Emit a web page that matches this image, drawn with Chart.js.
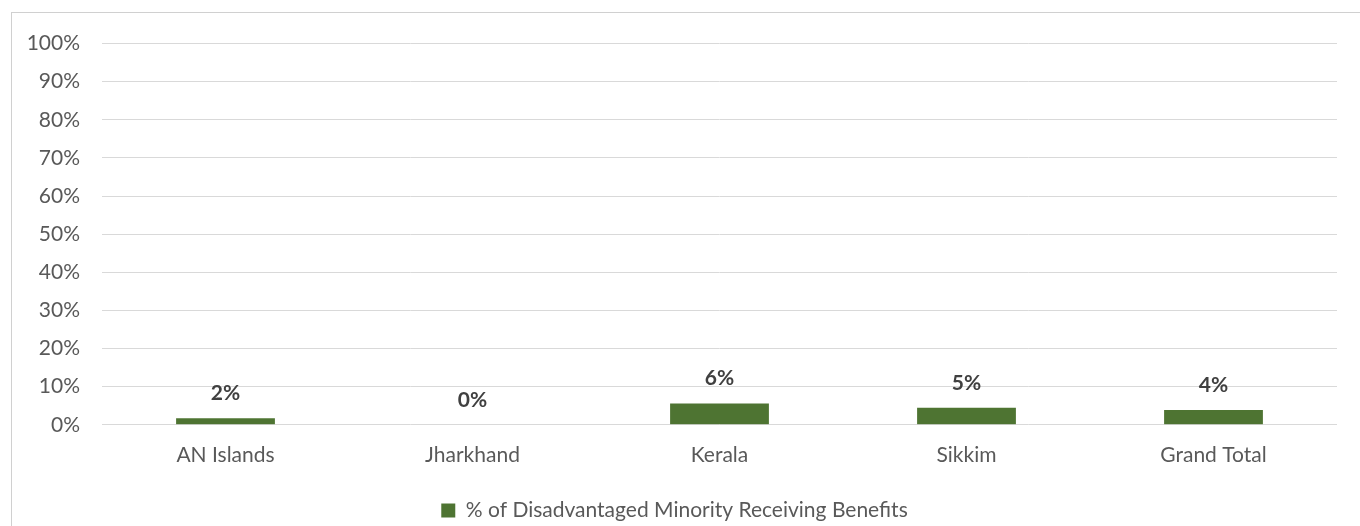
<!DOCTYPE html>
<html>
<head>
<meta charset="utf-8">
<script src="https://cdn.jsdelivr.net/npm/chart.js@4"></script>
<style>
  html, body { margin: 0; padding: 0; background: #fff; overflow: hidden; }
  #frame {
    position: absolute;
    left: 11px;
    top: 12px;
    width: 1360px;
    height: 540px;
    border: 1px solid #d0d0d0;
  }
  #wrap { position: absolute; left: 0; top: -4px; width: 1348px; height: 522px; }
</style>
</head>
<body>
<div id="frame"><div id="wrap"><canvas id="chart"></canvas></div></div>
<script>
// values (percent)
const categories = ["AN Islands", "Jharkhand", "Kerala", "Sikkim", "Grand Total"];
const benefitShare = [1.7, 0, 5.6, 4.5, 3.9];
const seriesLabel = "% of Disadvantaged Minority Receiving Benefits";

const FONT = "Lato, 'Open Sans', sans-serif";
const GREEN = "#4e7432";

// bold value labels above each bar
const valueLabels = {
  id: "valueLabels",
  afterDatasetsDraw(chart) {
    const ctx = chart.ctx;
    const meta = chart.getDatasetMeta(0);
    ctx.save();
    ctx.font = "bold 21px " + FONT;
    ctx.fillStyle = "#404040";
    ctx.textAlign = "center";
    ctx.textBaseline = "alphabetic";
    meta.data.forEach((bar, i) => {
      const v = chart.data.datasets[0].data[i];
      ctx.fillText(Math.round(v) + "%", bar.x, bar.y - 18);
    });
    ctx.restore();
  }
};

new Chart(document.getElementById("chart"), {
  type: "bar",
  data: {
    labels: categories,
    datasets: [
      {
        label: seriesLabel,
        data: benefitShare,
        backgroundColor: GREEN,
        borderWidth: 0,
        barPercentage: 1,
        categoryPercentage: 0.4,
      },
    ],
  },
  options: {
    responsive: true,
    maintainAspectRatio: false,
    animation: false,
    layout: { padding: { top: 12, right: 23, bottom: 0, left: 0 } },
    plugins: {
      tooltip: { enabled: false },
      legend: {
        position: "bottom",
        labels: {
          boxWidth: 14,
          boxHeight: 14,
          padding: 14,
          color: "#595959",
          font: { family: FONT, size: 21 },
        },
      },
    },
    scales: {
      y: {
        min: 0,
        max: 100,
        afterFit(axis) {
          axis.width = 90;
        },
        border: { display: false },
        grid: { color: "#d9d9d9", drawTicks: false },
        ticks: {
          stepSize: 10,
          padding: 22,
          color: "#595959",
          font: { family: FONT, size: 21 },
          callback: (v) => v + "%",
        },
      },
      x: {
        border: { display: false },
        grid: { display: false, drawTicks: false },
        ticks: {
          padding: 18,
          color: "#595959",
          font: { family: FONT, size: 21 },
        },
      },
    },
  },
  plugins: [valueLabels],
});
</script>
</body>
</html>
